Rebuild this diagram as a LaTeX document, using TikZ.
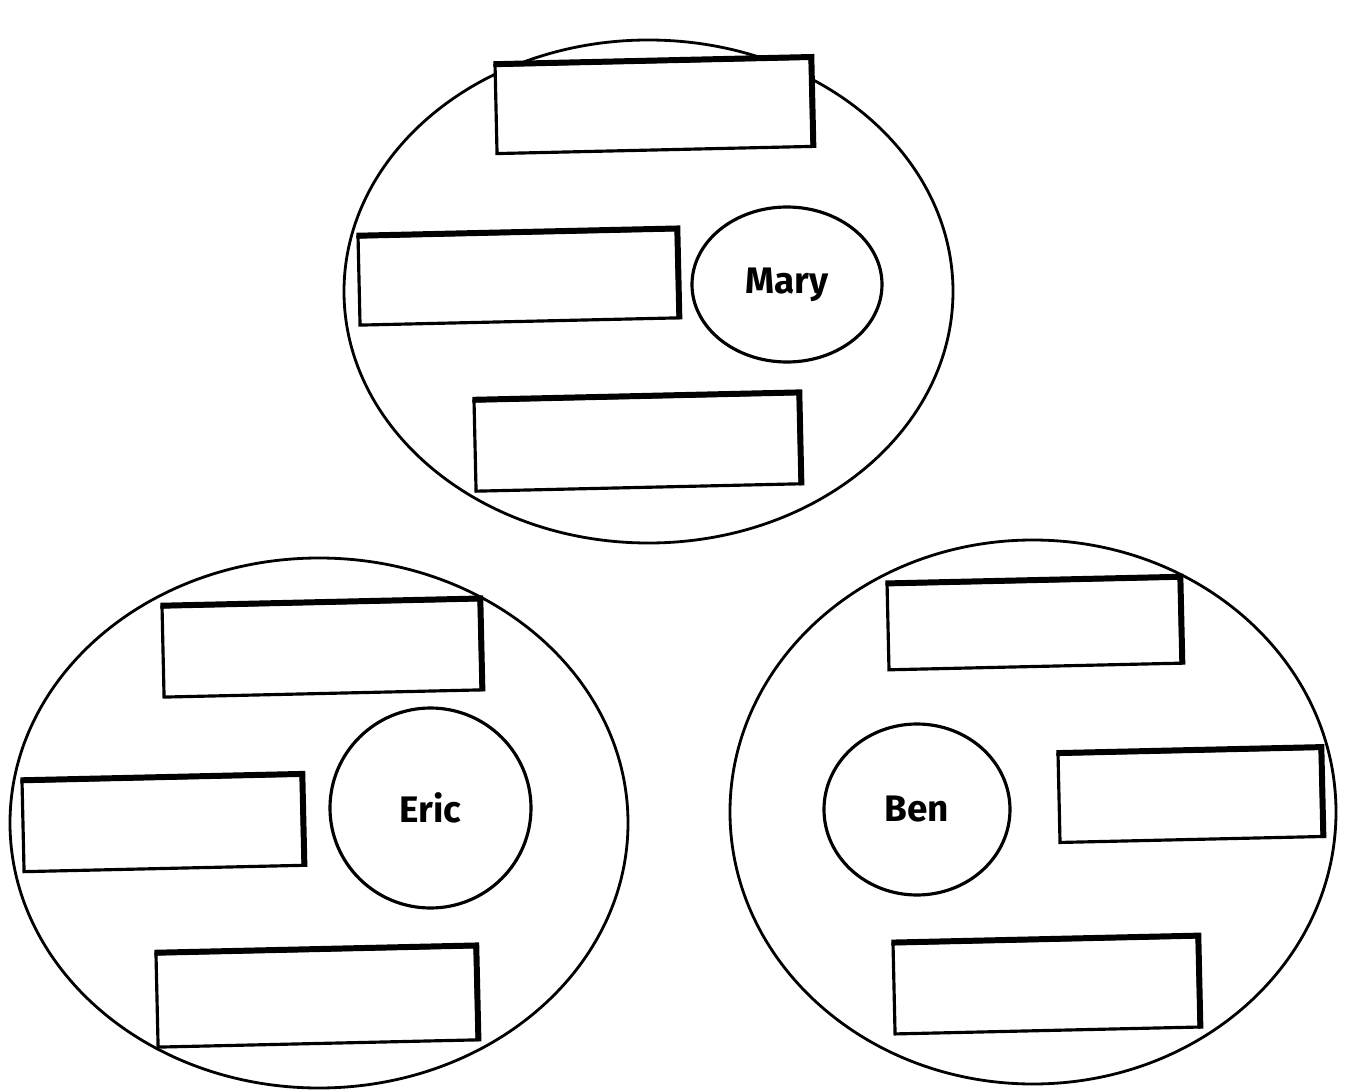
\documentclass[tikz,border=0pt]{standalone}
\usepackage{fontspec}
\setsansfont{Fira Sans}
\usetikzlibrary{shapes.geometric}

\begin{document}
\begin{tikzpicture}[x=1cm, y=1cm,
    bigring/.style={draw, ellipse, line width=0.8pt, inner sep=0pt},
    person/.style={draw, ellipse, line width=0.9pt, inner sep=0pt, font=\sffamily\bfseries\fontsize{10.5}{12}\selectfont},
    answerbox/.style={draw, fill=white, rectangle, line width=0.9pt, inner sep=0pt, rotate=1.3}]
  \useasboundingbox (0,0) rectangle (13.47,-10.91);

  \node[bigring, minimum width=6.09cm, minimum height=5.03cm] (top) at (6.485,-2.915) {};
  \node[bigring, minimum width=6.18cm, minimum height=5.30cm] (left) at (3.19,-8.23) {};
  \node[bigring, minimum width=6.06cm, minimum height=5.44cm] (right) at (10.33,-8.12) {};

  \node[person, minimum width=1.9cm, minimum height=1.55cm] (mary) at (7.87,-2.845) {Mary};
  \node[person, minimum width=2.01cm, minimum height=2.0cm] (eric) at (4.305,-8.08) {Eric};
  \node[person, minimum width=1.86cm, minimum height=1.71cm] (ben) at (9.17,-8.095) {Ben};

  \node[answerbox, minimum width=3.15cm, minimum height=0.88cm] (mary1) at (6.535,-1.06) {};
  \node[answerbox, minimum width=3.18cm, minimum height=0.88cm] (mary2) at (5.18,-2.775) {};
  \node[answerbox, minimum width=3.24cm, minimum height=0.90cm] (mary3) at (6.37,-4.425) {};
  \node[answerbox, minimum width=3.17cm, minimum height=0.90cm] (eric1) at (3.215,-6.485) {};
  \node[answerbox, minimum width=2.79cm, minimum height=0.90cm] (eric2) at (1.625,-8.235) {};
  \node[answerbox, minimum width=3.19cm, minimum height=0.93cm] (eric3) at (3.165,-9.97) {};
  \node[answerbox, minimum width=2.92cm, minimum height=0.85cm] (ben1) at (10.34,-6.24) {};
  \node[answerbox, minimum width=2.62cm, minimum height=0.88cm] (ben2) at (11.90,-7.955) {};
  \node[answerbox, minimum width=3.04cm, minimum height=0.90cm] (ben3) at (10.46,-9.855) {};

  \foreach \b in {mary1,mary2,mary3,eric1,eric2,eric3,ben1,ben2,ben3}
    \draw[line width=1.6pt, line join=miter] (\b.north west) -- (\b.north east) -- (\b.south east);
\end{tikzpicture}
\end{document}
